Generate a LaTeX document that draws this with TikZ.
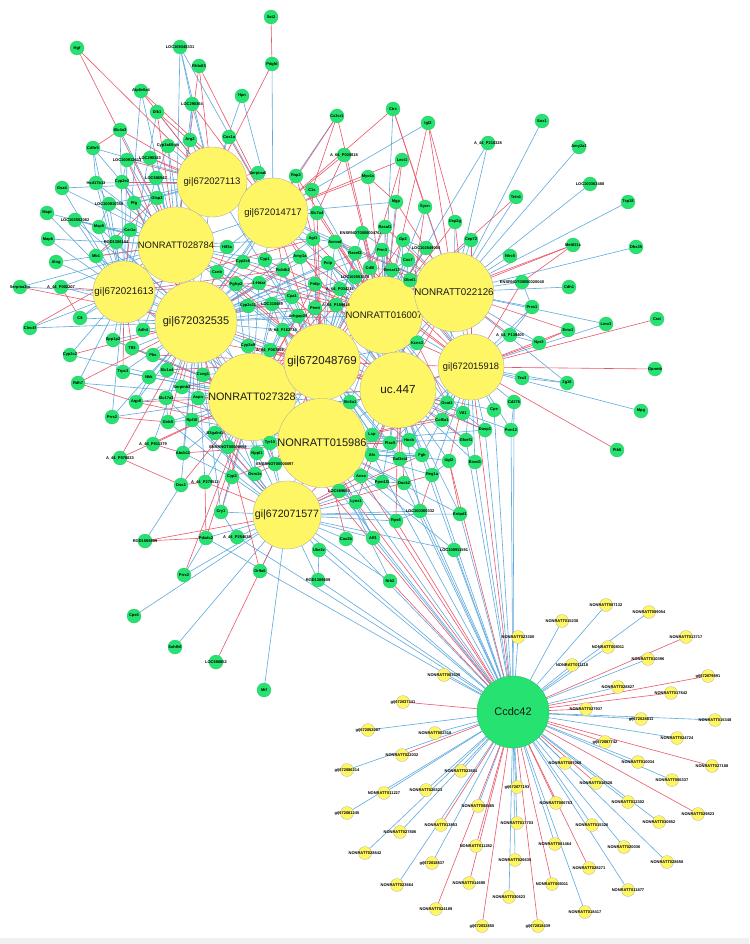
\documentclass[tikz,border=0pt]{standalone}
\usepackage{fontspec}
\setmainfont{Liberation Sans}
\definecolor{ngreen}{RGB}{38,226,112}
\definecolor{nyel}{RGB}{255,246,102}
\definecolor{eblue}{RGB}{95,170,222}
\definecolor{ered}{RGB}{232,88,108}
\pgfdeclarelayer{bg}
\pgfdeclarelayer{edges}
\pgfsetlayers{bg,edges,main}
\tikzset{
 gn/.style={circle,fill=ngreen,draw=ngreen!85!black,line width=0.2pt,minimum size=14pt,inner sep=0pt},
 yn/.style={circle,fill=nyel,draw=black!35,line width=0.2pt,minimum size=13pt,inner sep=0pt},
 hub/.style={circle,fill=nyel,draw=black!35,line width=0.3pt,inner sep=0pt,text=black!90},
 sl/.style={font=\fontsize{4}{4}\selectfont\bfseries,inner sep=0pt},
 eb/.style={draw=eblue,line width=0.6pt},
 er/.style={draw=ered,line width=0.6pt},
}
\begin{document}
\begin{tikzpicture}[x=1pt,y=-1pt]
\begin{pgfonlayer}{bg}
\fill[white] (0,0) rectangle (749,944);
\fill[black!6] (0,938) rectangle (749,944);
\end{pgfonlayer}
\useasboundingbox (0,0) rectangle (749,944);
% hubs
\node[hub,minimum size=70pt,font=\fontsize{9.5}{10}\selectfont] (hA) at (212,182) {gi|672027113};
\node[hub,minimum size=70pt,font=\fontsize{9.5}{10}\selectfont] (hB) at (273,213) {gi|672014717};
\node[hub,minimum size=68pt,font=\fontsize{9.4}{10}\selectfont] (hC) at (176,245) {NONRATT028784};
\node[hub,minimum size=62pt,font=\fontsize{9.8}{10}\selectfont] (hD) at (124,292) {gi|672021613};
\node[hub,minimum size=82pt,font=\fontsize{11}{12}\selectfont] (hE) at (196,322) {gi|672032535};
\node[hub,minimum size=76pt,font=\fontsize{10.8}{12}\selectfont] (hF) at (252,397) {NONRATT027328};
\node[hub,minimum size=76pt,font=\fontsize{11.5}{12}\selectfont] (hG) at (322,362) {gi|672048769};
\node[hub,minimum size=68pt,font=\fontsize{9.5}{10}\selectfont] (hH) at (384,315) {NONRATT016007};
\node[hub,minimum size=68pt,font=\fontsize{9.8}{10}\selectfont] (hI) at (454,292) {NONRATT022126};
\node[hub,minimum size=66pt,font=\fontsize{9.3}{10}\selectfont] (hJ) at (471,367) {gi|672015918};
\node[hub,minimum size=76pt,font=\fontsize{11.7}{12}\selectfont] (hK) at (398,390) {uc.447};
\node[hub,minimum size=78pt,font=\fontsize{11}{12}\selectfont] (hL) at (322,443) {NONRATT015986};
\node[hub,minimum size=68pt,font=\fontsize{10.6}{12}\selectfont] (hM) at (287,515) {gi|672071577};
\node[circle,fill=ngreen,draw=ngreen!80!black,line width=0.3pt,minimum size=72pt,inner sep=0pt,font=\fontsize{11}{12}\selectfont,text=black!90] (cc) at (513,712) {Ccdc42};
% green nodes
\foreach \i/\x/\y/\t in {
1/77/48/Hgf,2/180/47/LOC108348331,3/199/66/Rhbdl3,4/141/91/Atp6v0a4,5/192/104/LOC290364,6/157/112/Dlk1,7/242/96/Hpn,8/120/130/Slc4a3,9/190/140/Arg2,10/229/137/Cox1a,
11/168/146/Cyp3a65-ps,12/93/148/Cdhr5,13/127/160/LOC100912613,14/150/158/LOC290343,15/96/183/Hsd17b13,16/122/182/Cyp2e2,17/156/178/LOC686547,18/62/188/Gsa4,19/134/203/Pfg,20/157/198/Olap2,
21/109/204/LOC100910358,22/47/213/Mapt,23/75/220/LOC102552062,24/99/227/Msp5,25/130/230/Cer1a,26/116/242/RGD1306104,27/48/239/Mapk,28/96/256/Mb1,29/56/262/Alog,30/20/287/Serpina3m,
31/61/287/A\_44\_P002207,32/80/318/C8,33/30/328/Clec4f,34/113/340/Spp1p2,35/143/330/Adh4,36/132/348/Tff3,37/153/355/Pbx,38/70/355/Cyp2c2,39/123/372/Trpc3,40/167/370/Slc1a4,
41/149/377/Nkk,42/78/383/Rdh7,43/203/375/Ccng1,44/182/387/Serpinh2,45/136/402/Aqp8,46/166/398/Slc17a3,47/198/398/Aspn,48/112/417/Prrs2,49/168/422/Gnb5,50/192/420/Rpl10,
51/215/433/B3galnt1,52/227/247/Hif3a,53/217/272/Ccnb,54/243/262/Cyp2c6,55/236/284/Pgfrp2,56/248/306/Cyp2c11,57/248/346/Cyp3a9,58/271/17/Sst2,59/272/64/Pdgfd,60/337/116/Cx3cr1,
61/393/109/Ctrc,62/428/123/Igf2,63/344/155/A\_64\_P020818,64/402/160/Lect1,65/258/173/Serpina6,66/296/176/Rsp2,67/368/177/Myo1c,68/312/190/C1s,69/317/213/Slc7a4,70/396/202/Mgp,
71/425/207/Sycn,72/455/222/Usp2g,73/313/239/Agt1,74/335/242/Acmsd,75/362/233/ENSRNOT00000047628,76/385/227/Rasal1,77/403/240/Gp2,78/426/248/LOC102549004,79/471/240/Cep72,80/382/250/Prm3,
81/355/253/Rasef2,82/265/260/Cyp1,83/300/257/Amy1a,84/328/263/Pclp,85/370/268/Cd5l,86/392/270/Bnsar13,87/408/260/Cox7,88/410/280/Dbnl1,89/283/270/Rcbtb2,90/355/277/LOC102551575,
91/259/283/1-Hdar,92/315/284/Pnlip,93/340/289/A\_64\_P034216,94/292/297/Cpa1,95/272/304/LOC310489,96/315/308/Pemt,97/336/305/A\_64\_P159816,98/298/316/Arhgap28,99/283/330/A\_64\_P162734,100/270/350/A\_64\_P067862,
101/417/343/Kcns3,102/350/402/Slc6a1,103/447/403/Ocat1,104/463/413/Vil1,105/494/410/Cpe,106/442/420/Col6a1,107/485/430/Dusp1,108/372/435/Lsp,109/409/440/Hoxb,110/466/440/Gfxef1,
111/270/443/Tyr10,112/257/453/Nppl1,113/275/464/ENSRNOT00000097,114/255/474/Osm1s,115/372/455/Afs,116/390/443/Plac5,118/422/455/Fgh,119/400/459/Gal3st4,120/449/461/Ugt2,
121/475/462/Bsnd1,122/361/476/Anxa,123/382/482/Ppm1l3,124/404/483/Dock2,125/432/475/Reg1a,126/339/491/LOC689683,127/356/502/Lynx1,128/420/511/LOC100360332,129/460/514/Entpd1,130/396/521/Rps6,
131/346/539/Cox2b,132/373/538/Aff1,133/319/550/Ube2z,134/318/580/RGD1309609,135/454/550/LOC100911591,136/390/581/Nrk2,137/260/571/Or9a6,138/153/444/A\_44\_P911379,139/120/458/A\_44\_P976833,140/183/453/Abcb11,
141/228/447/ENSRNOT00000053,142/232/477/Cyp2,143/181/485/Dsc2,144/205/482/A\_44\_P279512,145/221/512/Cry1,146/145/541/RGD1569809,147/206/538/Pdxdc2,148/237/537/A\_44\_P254639,149/184/575/Prrx2,150/134/616/Cps6,
151/175/647/Sohlh6,152/216/662/LOC686852,153/264/690/Mif,154/510/256/Nlrc5,155/573/245/Mettl21c,156/636/247/Dhx35,157/522/282/ENSRNOT00000020040,158/569/287/Cdh1,159/532/307/Prss1,160/606/324/Lmo3,
161/657/319/Crat,162/568/330/Emx1,163/510/335/A\_64\_P138405,164/539/343/Npr3,165/655/369/Gpnmb,166/522/378/Tex3,167/567/383/Zg16,168/514/402/Cd276,169/641/411/Mpg,170/511/430/Prm12,
171/617/450/Ptk6,172/542/121/Sox1,173/579/147/Amy2a3,174/590/184/LOC100363488,175/516/197/Tctn1,176/628/202/Tsp18,177/488/143/A\_44\_P210328}
  \node[gn,label={[sl]center:\t}] (n\i) at (\x,\y) {};
% yellow nodes
\foreach \i/\x/\y/\t in {
1/606/605/NONRATT007132,2/649/612/NONRATT009054,3/562/621/NONRATT015238,4/518/637/NONRATT023300,5/608/647/NONRATT008011,6/686/637/NONRATT013717,7/572/665/NONRATT011118,8/648/659/NONRATT010396,9/708/676/gi|672079891,10/618/687/NONRATT028827,
11/671/693/NONRATT017842,12/586/709/NONRATT027937,13/641/719/gi|672028811,14/715/720/NONRATT015348,15/677/738/NONRATT024724,16/605/742/gi|672087742,17/712/766/NONRATT027188,18/638/762/NONRATT010034,19/565/763/NONRATT007068,20/672/780/NONRATT006337,
21/596/783/NONRATT018528,22/628/802/NONRATT012302,23/698/814/NONRATT029823,24/556/803/NONRATT006763,25/659/822/NONRATT030852,26/592/825/NONRATT015326,27/624/847/NONRATT020036,28/667/862/NONRATT028658,29/555/844/NONRATT001464,30/589/868/NONRATT028271,
31/628/890/NONRATT011877,32/552/884/NONRATT006011,33/585/912/NONRATT018417,34/538/926/gi|672018439,35/444/675/NONRATT003335,36/403/702/gi|672037341,37/368/730/gi|672052087,38/435/733/NONRATT002318,39/402/755/NONRATT022032,40/347/770/gi|672086314,
41/461/771/NONRATT023601,42/384/793/NONRATT011227,43/426/790/NONRATT026523,44/347/813/gi|672081245,45/517/787/gi|672077193,46/478/806/NONRATT008465,47/441/825/NONRATT013853,48/400/832/NONRATT027806,49/517/823/NONRATT017703,50/476/846/NONRATT011282,
51/365/853/NONRATT028842,52/432/863/gi|672018837,53/515/860/NONRATT026635,54/469/883/NONRATT014690,55/397/885/NONRATT023664,56/509/897/NONRATT030623,57/436/909/NONRATT024189,58/482/926/gi|672032850}
  \node[yn,label={[sl]center:\t}] (y\i) at (\x,\y) {};
\begin{pgfonlayer}{edges}
% hub-hub
\foreach \a/\b in {A/B,A/E,A/D,B/C,B/H,B/E,C/D,C/G,D/E,E/F,E/H,F/G,F/M,G/H,H/K,H/J,I/J,J/K,K/L,G/M,E/L,F/K,B/I,A/G,D/G,I/L,D/F,C/F}
  \draw[eb] (h\a) -- (h\b);
\foreach \a/\b in {A/C,B/G,C/E,E/G,F/L,G/K,H/I,I/K,L/M,C/H,D/L,B/K,G/J}
  \draw[er] (h\a) -- (h\b);
% green-hub blue
\foreach \a/\b in {2/A,2/C,4/C,5/A,5/C,6/A,7/B,7/A,8/C,9/A,9/C,10/A,11/A,11/C,12/D,12/C,13/C,14/C,15/D,15/C,16/C,17/A,17/C,18/D,18/C,19/C,19/A,20/A,21/D,21/C,22/D,23/D,23/C,24/D,24/C,25/C,26/C,26/D,27/D,28/D,29/D,30/D,31/E,32/D,32/E,33/D,34/D,34/E,35/D,35/E,36/E,37/E,38/D,39/E,40/E,41/E,42/D,43/E,43/F,44/E,45/E,46/E,46/F,47/F,47/E,48/E,48/D,49/F,50/F,50/E,51/F,52/C,52/B,53/E,53/C,54/B,55/E,56/E,56/G,57/E,57/F,59/B,60/E,61/H,62/B,65/B,68/B,68/H,69/B,70/H,70/B,71/H,71/I,72/I,73/B,74/G,75/H,76/H,77/H,77/I,78/I,79/I,80/H,81/G,82/B,82/G,83/G,84/G,84/H,85/H,86/H,87/H,87/I,88/I,88/H,89/G,90/H,90/G,91/E,91/G,92/G,93/G,93/H,94/G,95/G,95/E,96/G,97/G,98/G,99/G,99/F,100/F,100/G,101/K,101/H,102/K,102/G,103/K,103/J,104/J,105/J,106/K,107/J,107/K,108/L,108/K,109/K,109/L,110/J,111/L,112/F,112/M,113/L,113/M,114/M,114/F,115/L,115/K,116/K,118/K,118/L,119/L,120/K,121/J,122/L,123/L,123/M,124/L,125/K,125/L,126/M,126/L,127/M,128/L,128/M,129/K,129/M,130/L,130/M,131/M,132/M,132/L,133/M,134/M,135/M,135/L,136/M,136/L,137/M,138/E,140/F,140/E,141/F,141/M,142/M,142/F,143/E,144/F,145/M,147/M,148/M,149/M,150/M,151/M,153/M,154/I,156/I,157/I,158/I,159/I,159/J,160/J,160/I,163/J,164/I,166/J,167/J,167/I,168/J,169/J,170/J,170/K,172/I,173/I,174/I,175/I,176/I,177/H,177/I,
34/F,35/C,37/F,41/F,43/G,46/M,47/G,50/L,53/B,55/F,56/F,82/E,84/K,89/F,91/F,92/K,93/K,95/F,96/K,99/L,100/L,80/K,85/K,90/K,74/K,86/J,88/J,87/J,101/I,102/F,103/I,106/J,108/G,109/J,111/G,115/G,116/J,118/J,123/K,126/F,128/K,2/B,9/B,11/E,17/D,19/E,21/A,24/E,26/E,28/E,12/A,15/A,23/E,
73/E,73/C,74/E,75/G,75/I,76/G,77/K,78/H,79/H,80/E,81/B,81/E,82/C,83/E,84/E,85/G,86/K,87/K,88/K,89/C,90/E,91/C,92/E,93/E,94/F,95/C,96/E,97/K,98/E,99/E,100/E,
30/C,33/E,29/C,27/C,22/C,18/A,38/F,42/F,48/F,39/F,32/C,31/C,4/D,6/D,8/D,13/D,14/E,
103/H,104/H,105/K,106/H,107/L,110/L,120/L,121/K,125/J,129/L,101/G,102/H,108/H,109/H,115/F,116/G,118/G,119/G,
141/L,142/E,144/E,145/E,111/E,112/E,113/E,114/E,51/L,50/M,49/M,47/M}
  \draw[eb] (n\a) -- (h\b);
% green-hub red
\foreach \a/\b in {1/A,3/A,3/B,4/A,5/B,6/C,8/A,10/B,13/A,14/A,16/A,20/C,25/D,28/C,31/D,36/D,38/E,39/D,40/F,42/E,44/F,45/F,49/E,51/M,52/E,54/E,55/G,57/G,59/A,60/B,61/B,62/I,63/B,63/H,64/B,64/H,65/A,66/B,66/H,67/B,67/H,69/G,72/H,73/G,74/H,76/I,78/H,80/G,81/H,83/B,86/I,89/E,92/H,94/E,97/H,98/F,101/J,102/L,104/K,106/L,110/K,111/F,113/F,116/L,119/K,120/J,122/M,124/K,127/L,137/E,138/F,139/F,139/E,143/F,144/M,145/F,146/M,147/F,149/F,152/M,155/I,155/H,157/J,161/J,162/J,162/I,163/I,164/J,165/J,171/J,175/H,
35/G,36/F,37/G,44/G,45/L,57/L,56/H,82/H,83/H,89/B,91/H,94/K,95/L,98/K,99/K,73/H,74/I,68/G,69/H,76/K,80/J,85/J,90/J,102/J,108/F,113/G,114/L,122/K,127/K,130/K,131/L,140/L,142/L,16/E,13/E,14/B,6/B,4/B,
75/K,77/G,79/J,81/K,84/J,86/G,88/G,92/F,93/F,96/F,97/F,100/K,98/L,73/D,89/D,91/D,53/G,54/H,55/H,57/K,43/L,46/L,47/K,40/G,103/G,104/L,107/G,108/M,118/M,125/M,60/H,61/I,62/H,70/I,71/K,72/J,30/E,33/C,1/C,3/C}
  \draw[er] (n\a) -- (h\b);
% green-green
\foreach \a/\b in {2/5,5/9,9/11,11/17,13/16,16/19,19/20,21/24,24/25,25/26,26/28,23/24,12/15,15/21,34/36,36/37,39/41,41/45,45/46,46/49,49/50,44/47,82/83,83/84,89/94,94/95,92/96,96/99,98/99,99/100,73/74,74/81,80/85,85/86,86/87,77/78,102/108,108/109,109/116,115/118,118/119,120/125,122/123,123/124,126/127,127/132,128/130,112/114,111/113,140/142,142/145,145/148,147/149,157/159,159/163,163/164,166/167,168/170,103/104,104/107,106/110,133/134,143/146}
  \draw[eb] (n\a) -- (n\b);
\foreach \a/\b in {58/59,8/12,60/68,66/73,67/70,63/69,64/85,62/72,138/140,139/143,143/144,144/147,146/147,155/157,162/164,61/71,20/28,31/32,42/45,48/49,101/103,120/129,125/128}
  \draw[er] (n\a) -- (n\b);
% Ccdc42 to upper cluster
\foreach \b in {hL,hM,hK,hG,n121,n129,n135,n128,n132,n131,n133,n126,n124,n125,n110,n107,n105,n170,n168,n147,n148,n119,n134}
  \draw[eb] (cc) -- (\b);
\foreach \b in {hJ,hF,n136,n127,n120,n122,n130}
  \draw[er] (cc) -- (\b);
% Ccdc42 to yellow
\foreach \i in {1,2,3,4,5,7,8,10,13,14,15,18,19,20,22,25,26,27,28,29,31,33,35,37,38,40,41,42,43,44,45,46,48,49,51,52,53,55,56}
  \draw[eb] (cc) -- (y\i);
\foreach \i in {6,9,11,12,16,17,21,23,24,30,32,34,36,39,47,50,54,57,58}
  \draw[er] (cc) -- (y\i);
\end{pgfonlayer}
\end{tikzpicture}
\end{document}
